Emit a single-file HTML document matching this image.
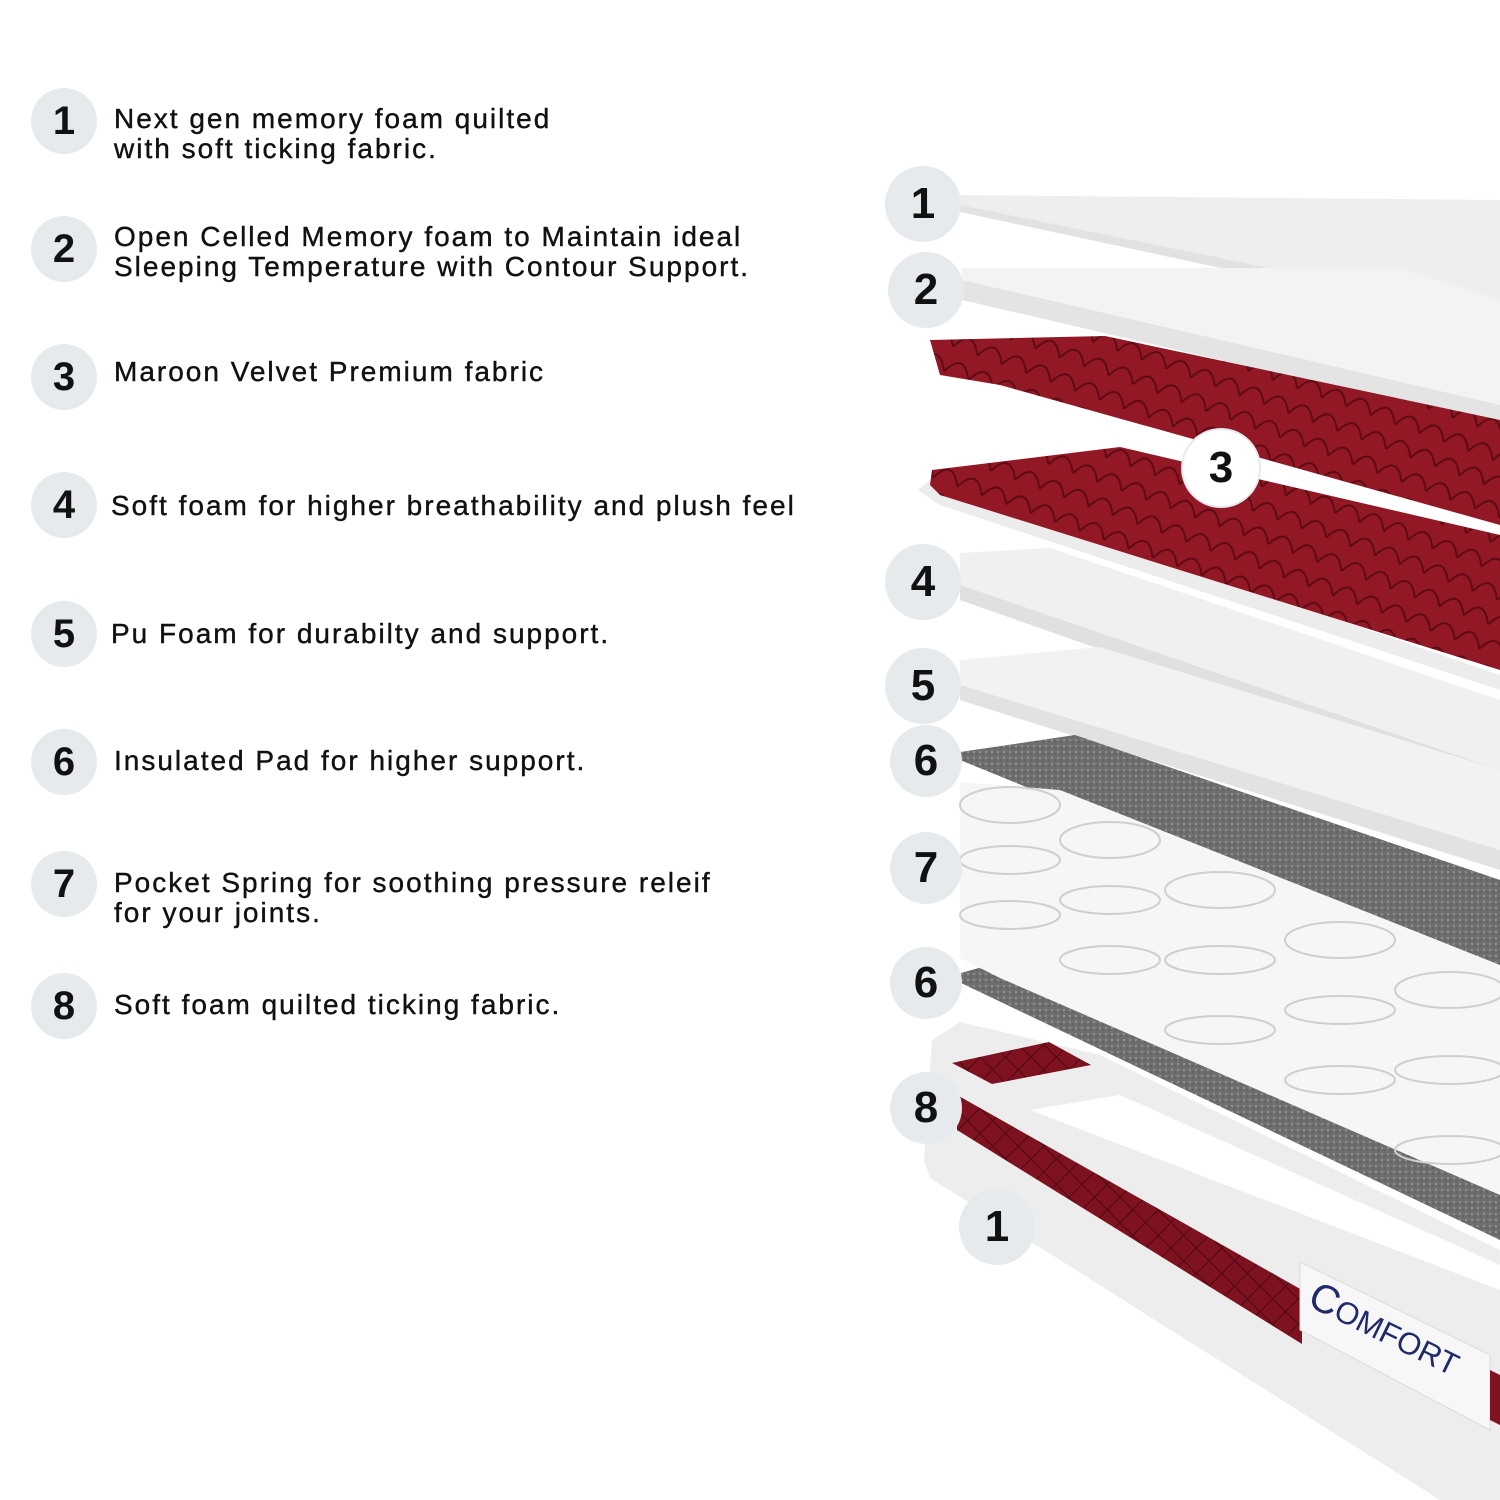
<!DOCTYPE html>
<html><head><meta charset="utf-8"><style>
html,body{margin:0;padding:0;background:#fff;width:1500px;height:1500px;overflow:hidden;position:relative;font-family:"Liberation Sans",sans-serif;color:#111}
.c{position:absolute;width:66px;height:66px;border-radius:50%;background:#e6eaec;font-size:40px;font-weight:bold;text-align:center;line-height:66px;color:#111}
.t{position:absolute;left:114px;font-size:28px;line-height:30px;letter-spacing:2px;white-space:nowrap;color:#111;-webkit-text-stroke:0.4px #111}
svg{position:absolute;left:0;top:0}
</style></head><body>
<svg width="1500" height="1500" viewBox="0 0 1500 1500">
<defs>
<pattern id="q" width="26" height="26" patternUnits="userSpaceOnUse" patternTransform="rotate(20)">
<rect width="26" height="26" fill="#931826"/>
<path d="M0 26 Q13 0 26 26" fill="none" stroke="#5e0a14" stroke-width="2"/>
</pattern>
<pattern id="d" width="18" height="18" patternUnits="userSpaceOnUse" patternTransform="rotate(45)">
<rect width="18" height="18" fill="#7e1220"/>
<path d="M0 0 L18 0 M0 0 L0 18" stroke="#4e0810" stroke-width="2"/>
</pattern>
<pattern id="g" width="6" height="6" patternUnits="userSpaceOnUse">
<rect width="6" height="6" fill="#6e6e6e"/><circle cx="2" cy="2" r="1" fill="#9a9a9a"/><circle cx="5" cy="4" r="0.8" fill="#555"/>
</pattern>
</defs>
<polygon points="960,195 1500,200 1500,328 960,210" fill="#eeeeee"/>
<polygon points="960,205 1500,315 1500,328 960,212" fill="#e2e2e2"/>
<polygon points="962,268 1400,268 1500,300 1500,425 962,282" fill="#f3f3f3"/>
<polygon points="962,280 1500,405 1500,425 962,300" fill="#e4e4e4"/>
<polygon points="930,340 1105,336 1500,420 1500,525 1000,385 940,375" fill="url(#q)"/>
<polygon points="918,490 930,480 1500,675 1500,690 940,505" fill="#ececec"/>
<polygon points="932,470 1120,447 1500,535 1500,670 940,495 930,485" fill="url(#q)"/>
<polygon points="960,553 1050,548 1500,700 1500,790 960,600" fill="#f0f0f0"/>
<polygon points="960,585 1500,770 1500,790 960,600" fill="#e0e0e0"/>
<polygon points="960,660 1100,647 1500,770 1500,870 960,700" fill="#f2f2f2"/>
<polygon points="960,685 1500,850 1500,870 960,700" fill="#e2e2e2"/>
<polygon points="960,752 1075,735 1500,880 1500,980 960,760" fill="url(#g)"/>
<!-- bottom mattress -->
<polygon points="932,1040 960,1022 1100,1055 1500,1250 1500,1500 1440,1500 930,1178 924,1160" fill="#ededed"/>
<polygon points="1030,1110 1120,1095 1500,1265 1500,1290" fill="#fff"/>
<polygon points="952,1063 1049,1042 1091,1065 992,1084" fill="url(#d)"/>
<polygon points="957,1095 1302,1290 1302,1344 957,1130" fill="url(#d)"/>
<polygon points="1300,1262 1490,1355 1490,1430 1300,1330" fill="#f7f7f7" stroke="#dcdcdc"/>
<polygon points="1490,1370 1500,1375 1500,1425 1490,1420" fill="#7e1220"/>
<text x="1306" y="1305" font-family="Liberation Sans,sans-serif" font-size="40" fill="#1f2a6a" transform="rotate(26 1306 1305)">C<tspan font-size="31">OMFORT</tspan></text>
<polygon points="961,973 1000,962 1500,1150 1500,1240 961,983" fill="url(#g)"/>
<polygon points="960,782 1060,790 1500,965 1500,1195 1000,978 960,958" fill="#f6f6f6"/>
<g fill="none" stroke="#cfcfcf" stroke-width="2">
<ellipse cx="1010" cy="805" rx="50" ry="18"/><ellipse cx="1010" cy="860" rx="50" ry="14"/><ellipse cx="1010" cy="915" rx="50" ry="14"/>
<ellipse cx="1110" cy="840" rx="50" ry="18"/><ellipse cx="1110" cy="900" rx="50" ry="14"/><ellipse cx="1110" cy="960" rx="50" ry="14"/>
<ellipse cx="1220" cy="890" rx="55" ry="18"/><ellipse cx="1220" cy="960" rx="55" ry="14"/><ellipse cx="1220" cy="1030" rx="55" ry="14"/>
<ellipse cx="1340" cy="940" rx="55" ry="18"/><ellipse cx="1340" cy="1010" rx="55" ry="14"/><ellipse cx="1340" cy="1080" rx="55" ry="14"/>
<ellipse cx="1450" cy="990" rx="55" ry="18"/><ellipse cx="1450" cy="1070" rx="55" ry="14"/><ellipse cx="1450" cy="1150" rx="55" ry="14"/>
</g>
</svg>
<div class="c" style="left:31px;top:88px">1</div>
<div class="c" style="left:31px;top:216px">2</div>
<div class="c" style="left:31px;top:344px">3</div>
<div class="c" style="left:31px;top:472px">4</div>
<div class="c" style="left:31px;top:601px">5</div>
<div class="c" style="left:31px;top:729px">6</div>
<div class="c" style="left:31px;top:851px">7</div>
<div class="c" style="left:31px;top:973px">8</div>
<div class="t" style="top:104px">Next gen memory foam quilted<br>with soft ticking fabric.</div>
<div class="t" style="top:222px">Open Celled Memory foam to Maintain ideal<br>Sleeping Temperature with Contour Support.</div>
<div class="t" style="top:357px">Maroon Velvet Premium fabric</div>
<div class="t" style="top:491px;left:111px">Soft foam for higher breathability and plush feel</div>
<div class="t" style="top:619px;left:111px">Pu Foam for durabilty and support.</div>
<div class="t" style="top:746px">Insulated Pad for higher support.</div>
<div class="t" style="top:868px">Pocket Spring for soothing pressure releif<br>for your joints.</div>
<div class="t" style="top:990px">Soft foam quilted ticking fabric.</div>
<div class="c" style="left:885px;top:166px;width:76px;height:76px;line-height:76px;font-size:44px">1</div>
<div class="c" style="left:888px;top:252px;width:76px;height:76px;line-height:76px;font-size:44px">2</div>
<div class="c" style="left:1183px;top:430px;width:76px;height:76px;line-height:76px;font-size:44px;background:#fff;box-shadow:0 0 0 2px #e6eaec">3</div>
<div class="c" style="left:885px;top:544px;width:76px;height:76px;line-height:76px;font-size:44px">4</div>
<div class="c" style="left:885px;top:648px;width:76px;height:76px;line-height:76px;font-size:44px">5</div>
<div class="c" style="left:890px;top:725px;width:72px;height:72px;line-height:72px;font-size:44px">6</div>
<div class="c" style="left:890px;top:832px;width:72px;height:72px;line-height:72px;font-size:44px">7</div>
<div class="c" style="left:890px;top:947px;width:72px;height:72px;line-height:72px;font-size:44px">6</div>
<div class="c" style="left:890px;top:1072px;width:72px;height:72px;line-height:72px;font-size:44px">8</div>
<div class="c" style="left:959px;top:1189px;width:76px;height:76px;line-height:76px;font-size:44px">1</div>
</body></html>
